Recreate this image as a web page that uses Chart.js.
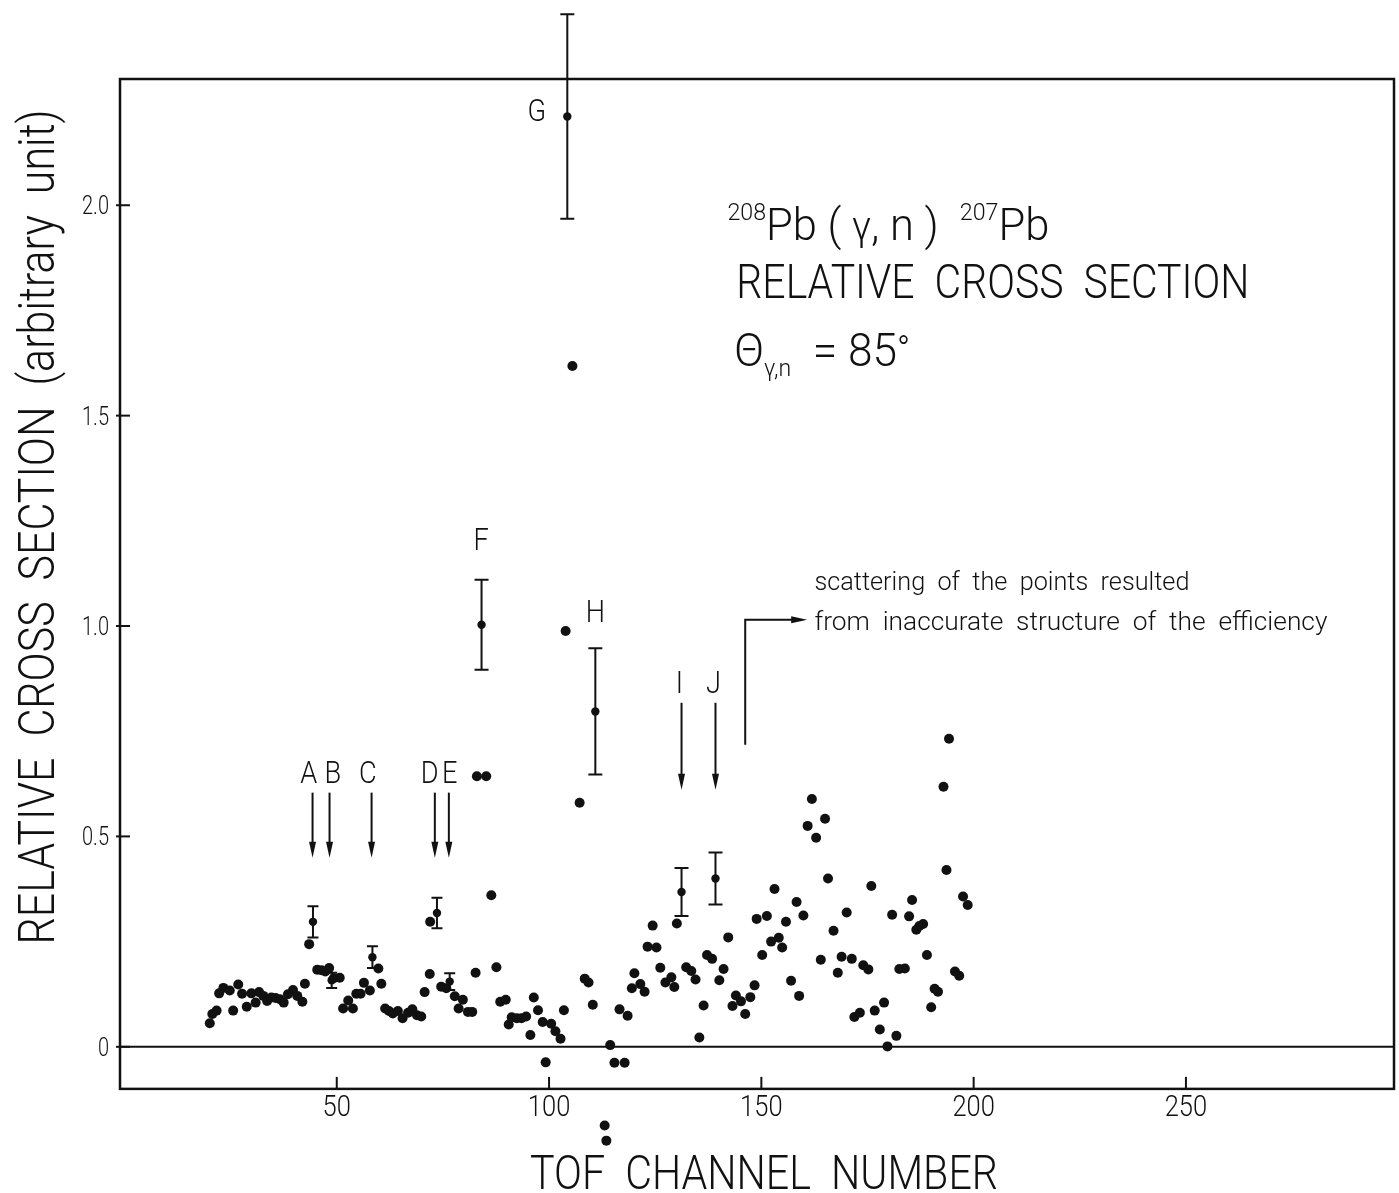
<!DOCTYPE html>
<html>
<head>
<meta charset="utf-8">
<script src="https://cdn.jsdelivr.net/npm/chart.js@4.4.1/dist/chart.umd.min.js"></script>
<style>
  html, body { margin: 0; padding: 0; background: #fff; }
  #wrap { width: 1399px; height: 1193px; }
</style>
</head>
<body>
<div id="wrap"><canvas id="cnv" width="1399" height="1193"></canvas></div>
<script>
/* 208Pb(g,n)207Pb relative cross section vs TOF channel */

// measured points (TOF channel, relative cross section)
const CHANNEL = [
  20.1, 20.7, 21.7, 22.3, 23.3, 24.8, 25.6, 26.8, 27.7, 28.8, 29.9, 30.9, 31.7, 32.7, 33.6, 34.6,
  35.6, 36.6, 37.5, 38.5, 39.7, 40.7, 41.9, 42.5, 43.5, 45.4, 46.4, 47.3, 48.2, 49.3, 50.7, 51.5,
  52.7, 53.8, 54.6, 55.6, 56.4, 57.8, 59.8, 60.5, 61.4, 62.3, 63.2, 64.4, 65.5, 66.8, 67.8, 68.9,
  69.9, 70.7, 71.9, 72.0, 74.6, 75.8, 77.8, 78.7, 79.7, 80.9, 81.9, 82.7, 83.0, 85.2, 86.4, 87.6,
  88.5, 89.8, 90.5, 91.2, 92.4, 93.5, 94.6, 95.6, 96.4, 97.4, 98.5, 99.2, 100.5, 101.5, 102.7, 103.5,
  103.9, 105.5, 107.2, 108.4, 109.3, 110.3, 113.1, 113.5, 114.4, 115.4, 116.6, 117.8, 118.5, 119.5, 120.1, 121.5,
  122.5, 123.2, 124.4, 125.3, 126.2, 127.4, 128.8, 129.5, 130.1, 132.3, 133.5, 134.5, 135.4, 136.4, 137.2, 138.4,
  140.1, 141.1, 142.2, 143.2, 144.0, 145.2, 146.2, 147.4, 148.4, 148.9, 150.2, 151.3, 152.3, 153.1, 154.1, 154.9,
  155.8, 157.0, 158.3, 158.9, 159.9, 160.9, 161.9, 162.9, 164.0, 165.0, 165.7, 167.0, 168.0, 168.9, 170.1, 171.3,
  171.9, 173.2, 174.0, 175.2, 175.9, 176.7, 177.9, 178.9, 179.7, 180.8, 181.8, 182.5, 183.8, 184.8, 185.5, 186.5,
  187.2, 188.1, 189.0, 190.0, 190.8, 191.6, 192.9, 193.6, 194.2, 195.6, 196.6, 197.5, 198.6
];
const VALUE = [
  0.056, 0.078, 0.086, 0.127, 0.140, 0.134, 0.086, 0.148, 0.126, 0.095, 0.127, 0.105, 0.130, 0.121, 0.109, 0.117,
  0.116, 0.113, 0.105, 0.125, 0.135, 0.121, 0.107, 0.150, 0.244, 0.183, 0.182, 0.179, 0.187, 0.163, 0.164, 0.091,
  0.110, 0.091, 0.126, 0.126, 0.152, 0.134, 0.186, 0.150, 0.091, 0.085, 0.079, 0.085, 0.068, 0.081, 0.089, 0.075,
  0.072, 0.130, 0.173, 0.297, 0.143, 0.139, 0.120, 0.091, 0.112, 0.083, 0.083, 0.176, 0.643, 0.643, 0.360, 0.189,
  0.107, 0.112, 0.053, 0.070, 0.068, 0.068, 0.072, 0.028, 0.117, 0.087, 0.059, -0.037, 0.055, 0.037, 0.019, 0.087,
  0.988, 1.618, 0.580, 0.162, 0.153, 0.100, -0.187, -0.223, 0.004, -0.038, 0.089, -0.038, 0.074, 0.139, 0.175, 0.149,
  0.131, 0.238, 0.288, 0.236, 0.188, 0.153, 0.165, 0.142, 0.293, 0.189, 0.180, 0.160, 0.022, 0.098, 0.218, 0.209,
  0.158, 0.185, 0.260, 0.097, 0.122, 0.108, 0.078, 0.118, 0.146, 0.304, 0.218, 0.311, 0.250, 0.375, 0.259, 0.236,
  0.297, 0.157, 0.344, 0.121, 0.312, 0.525, 0.589, 0.497, 0.207, 0.542, 0.400, 0.276, 0.176, 0.214, 0.319, 0.209,
  0.071, 0.081, 0.194, 0.184, 0.382, 0.086, 0.041, 0.105, 0.001, 0.314, 0.026, 0.185, 0.186, 0.310, 0.349, 0.278,
  0.287, 0.292, 0.218, 0.094, 0.138, 0.131, 0.618, 0.420, 0.732, 0.179, 0.169, 0.357, 0.337
];

// points drawn with error bars
const ERR_CHANNEL = [44.4, 48.8, 58.4, 73.6, 76.6, 84.1, 104.3, 110.9, 131.2, 139.2];
const ERR_VALUE   = [0.297, 0.158, 0.213, 0.318, 0.155, 1.003, 2.211, 0.797, 0.368, 0.400];
const ERR_SIZE    = [0.037, 0.018, 0.026, 0.036, 0.020, 0.107, 0.243, 0.150, 0.057, 0.062];

// resonance markers
const MARK_NAMES   = ['A', 'B', 'C', 'D', 'E', 'I', 'J'];
const MARK_CHANNEL = [44.3, 48.3, 58.2, 73.1, 76.4, 131.2, 139.2];
const MARK_TEXT_CH = [43.4, 49.1, 57.3, 71.9, 76.6, 130.7, 138.7];
const PEAK_NAMES   = ['F', 'G', 'H'];
const PEAK_TEXT_CH = [84.0, 97.1, 110.9];
const PEAK_TEXT_Y  = [1.181, 2.200, 1.009];

const X_TICKS = [50, 100, 150, 200, 250];
const Y_TICKS = [0, 0.5, 1.0, 1.5, 2.0];
const FRAME_Y_MIN = -0.1;   // lower edge of the drawn frame; a few points fall below it

const FONT = 'Roboto, "Liberation Sans", sans-serif';
const INK = '#111';

function txt(ctx, s, x, y, size, sx, align, weight) {
  ctx.save();
  ctx.font = `${weight || 300} ${size}px ${FONT}`;
  const w = ctx.measureText(s).width * sx;
  const x0 = align === 'center' ? x - w / 2 : align === 'right' ? x - w : x;
  ctx.translate(x0, y);
  ctx.scale(sx, 1);
  ctx.textAlign = 'left';
  ctx.textBaseline = 'alphabetic';
  ctx.fillText(s, 0, 0);
  ctx.restore();
  return w;
}

// text squeezed to a given width
function txtFit(ctx, s, x, y, size, width, align) {
  ctx.font = `300 ${size}px ${FONT}`;
  return txt(ctx, s, x, y, size, width / ctx.measureText(s).width, align);
}

// run of segments [text, size, dy], squeezed to a given width
function txtRun(ctx, segs, x, y, width) {
  let nat = 0;
  segs.forEach(s => { ctx.font = `300 ${s[1]}px ${FONT}`; nat += ctx.measureText(s[0]).width; });
  const sx = width / nat;
  let cx = x;
  segs.forEach(s => { cx += txt(ctx, s[0], cx, y + (s[2] || 0), s[1], sx, 'left'); });
}

function arrowDown(ctx, x, yTop, yTip) {
  ctx.beginPath(); ctx.moveTo(x, yTop); ctx.lineTo(x, yTip - 12); ctx.stroke();
  ctx.beginPath(); ctx.moveTo(x - 3.5, yTip - 16); ctx.lineTo(x + 3.5, yTip - 16); ctx.lineTo(x, yTip); ctx.closePath(); ctx.fill();
}

const decor = {
  id: 'decor',
  beforeDatasetsDraw(chart) {
    const { ctx, chartArea: a, scales: { x, y } } = chart;
    const bottom = y.getPixelForValue(FRAME_Y_MIN);
    ctx.save();
    ctx.strokeStyle = INK; ctx.fillStyle = INK;
    ctx.lineWidth = 2.5;
    ctx.strokeRect(a.left, a.top, a.right - a.left, bottom - a.top);
    // zero line
    ctx.lineWidth = 2;
    const y0 = y.getPixelForValue(0);
    ctx.beginPath(); ctx.moveTo(a.left, y0); ctx.lineTo(a.right, y0); ctx.stroke();
    // ticks, pointing inwards
    x.ticks.forEach(t => {
      const px = x.getPixelForValue(t.value);
      ctx.beginPath(); ctx.moveTo(px, bottom); ctx.lineTo(px, bottom - 12); ctx.stroke();
      txt(ctx, String(t.value), px, bottom + 27, 29, 0.88, 'center');
    });
    y.ticks.forEach(t => {
      const py = y.getPixelForValue(t.value);
      ctx.beginPath(); ctx.moveTo(a.left - 4, py); ctx.lineTo(a.left + 10, py); ctx.stroke();
      txt(ctx, t.value === 0 ? '0' : t.value.toFixed(1), a.left - 11, py + 9, 25, 0.8, 'right');
    });
    // axis titles
    txtFit(ctx, 'TOF  CHANNEL  NUMBER', 764, 1189, 48, 468, 'center');
    ctx.save();
    ctx.translate(54, 527); ctx.rotate(-Math.PI / 2);
    txtFit(ctx, 'RELATIVE  CROSS  SECTION  (arbitrary  unit)', 0, 0, 50, 835, 'center');
    ctx.restore();
    ctx.restore();
  },
  afterDatasetsDraw(chart) {
    const { ctx, scales: { x, y } } = chart;
    ctx.save();
    ctx.strokeStyle = INK; ctx.fillStyle = INK; ctx.lineWidth = 2;
    // error bars
    ERR_CHANNEL.forEach((c, i) => {
      const px = x.getPixelForValue(c);
      const yt = y.getPixelForValue(ERR_VALUE[i] + ERR_SIZE[i]);
      const yb = y.getPixelForValue(ERR_VALUE[i] - ERR_SIZE[i]);
      const cap = ERR_SIZE[i] > 0.05 ? 7 : 5.5;
      ctx.beginPath();
      ctx.moveTo(px, yt); ctx.lineTo(px, yb);
      ctx.moveTo(px - cap, yt); ctx.lineTo(px + cap, yt);
      ctx.moveTo(px - cap, yb); ctx.lineTo(px + cap, yb);
      ctx.stroke();
    });
    // resonance arrows
    MARK_NAMES.forEach((n, i) => {
      const hi = i >= 5;
      const px = x.getPixelForValue(MARK_CHANNEL[i]);
      arrowDown(ctx, px, y.getPixelForValue(hi ? 0.8175 : 0.604), y.getPixelForValue(hi ? 0.611 : 0.449));
      txt(ctx, n, x.getPixelForValue(MARK_TEXT_CH[i]), y.getPixelForValue(hi ? 0.841 : 0.627), 32, 0.85, 'center');
    });
    PEAK_NAMES.forEach((n, i) => {
      txt(ctx, n, x.getPixelForValue(PEAK_TEXT_CH[i]), y.getPixelForValue(PEAK_TEXT_Y[i]), 32, 0.85, 'center');
    });
    // efficiency remark
    const ex = x.getPixelForValue(146.2), ey = y.getPixelForValue(1.015);
    const etip = x.getPixelForValue(160.8);
    ctx.beginPath(); ctx.moveTo(ex, y.getPixelForValue(0.718)); ctx.lineTo(ex, ey); ctx.lineTo(etip - 12, ey); ctx.stroke();
    ctx.beginPath(); ctx.moveTo(etip - 16, ey - 3.5); ctx.lineTo(etip - 16, ey + 3.5); ctx.lineTo(etip, ey); ctx.closePath(); ctx.fill();
    const tx = x.getPixelForValue(162.5);
    txtFit(ctx, 'scattering  of  the  points  resulted', tx, y.getPixelForValue(1.086), 26, 375, 'left');
    txtFit(ctx, 'from  inaccurate  structure  of  the  efficiency', tx, y.getPixelForValue(0.991), 26, 513, 'left');
    // reaction block
    const bx = x.getPixelForValue(142.0);
    txtRun(ctx, [['208', 24, -20], ['Pb', 45], [' ( ', 45], ['\u03b3', 40], [', n )  ', 45], ['207', 24, -20], ['Pb', 45]],
      bx, y.getPixelForValue(1.918), 322);
    txtFit(ctx, 'RELATIVE  CROSS  SECTION', x.getPixelForValue(144.1), y.getPixelForValue(1.779), 48, 513, 'left');
    txtRun(ctx, [['\u0398', 46], ['\u03b3,n', 24, 10], ['  = 85', 46], ['\u00b0', 36, -4]],
      x.getPixelForValue(143.6), y.getPixelForValue(1.618), 176);
    ctx.restore();
  },
};

new Chart(document.getElementById('cnv'), {
  type: 'scatter',
  data: {
    datasets: [
      {
        label: 'points',
        data: CHANNEL.map((c, i) => ({ x: c, y: VALUE[i] })),
        backgroundColor: INK, borderColor: INK, borderWidth: 0,
        pointRadius: 5, clip: false,
      },
      {
        label: 'with errors',
        data: ERR_CHANNEL.map((c, i) => ({ x: c, y: ERR_VALUE[i] })),
        backgroundColor: INK, borderColor: INK, borderWidth: 0,
        pointRadius: 4.2, clip: false,
      },
    ],
  },
  options: {
    responsive: false,
    animation: false,
    devicePixelRatio: 1,
    // plot area reaches below the frame so points under -0.1 still get drawn
    layout: { padding: { top: 79, right: 4, left: 0, bottom: 0 } },
    plugins: { legend: { display: false }, tooltip: { enabled: false } },
    scales: {
      x: {
        type: 'linear', min: -1.05, max: 299,
        afterFit: s => { s.height = 41; },
        afterBuildTicks: s => { s.ticks = X_TICKS.map(v => ({ value: v })); },
        ticks: { display: false }, grid: { display: false }, border: { display: false },
      },
      y: {
        type: 'linear', min: -0.25, max: 2.3,
        afterFit: s => { s.width = 120; },
        afterBuildTicks: s => { s.ticks = Y_TICKS.map(v => ({ value: v })); },
        ticks: { display: false }, grid: { display: false }, border: { display: false },
      },
    },
  },
  plugins: [decor],
});
</script>
</body>
</html>
